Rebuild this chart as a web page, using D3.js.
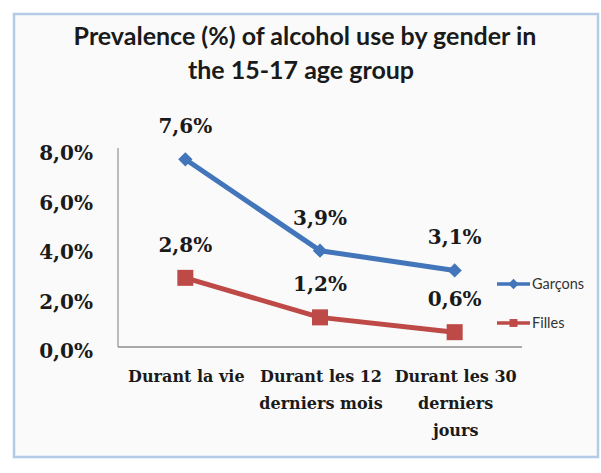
<!DOCTYPE html>
<html>
<head>
<meta charset="utf-8">
<script src="https://cdn.jsdelivr.net/npm/d3@7"></script>
<style>
  body { margin: 0; background: #fff; }
  .title { font-family: Lato, 'Open Sans', sans-serif; font-weight: bold; font-size: 25px; fill: #1a1a1a; }
  .num { font-family: 'DejaVu Serif', serif; font-weight: bold; font-size: 20px; fill: #1a1a1a; }
  .cat { font-family: 'DejaVu Serif', serif; font-weight: bold; font-size: 16px; fill: #1a1a1a; }
  .legend-label { font-family: Lato, sans-serif; font-size: 14.5px; fill: #333; }
</style>
</head>
<body>
<div id="chart"></div>
<script>
const categories = [['Durant la vie'], ['Durant les 12', 'derniers mois'], ['Durant les 30', 'derniers', 'jours']];
const seriesNames = ['Garçons', 'Filles'];
const garcons = [7.6, 3.9, 3.1];
const filles = [2.8, 1.2, 0.6];
const yTicks = [0, 2, 4, 6, 8];
const colors = ['#4275b9', '#bd4a47'];

const width = 601, height = 473;
const svg = d3.select('#chart').append('svg')
    .attr('width', width)
    .attr('height', height);

// frame
svg.append('rect')
    .attr('x', 14).attr('y', 14)
    .attr('width', 584).attr('height', 443)
    .attr('fill', '#fafafa')
    .attr('stroke', '#b3cbe6')
    .attr('stroke-width', 2.5);

// title
svg.append('text').attr('class', 'title')
    .attr('x', 305).attr('y', 45)
    .attr('text-anchor', 'middle')
    .text('Prevalence (%) of alcohol use by gender in');
svg.append('text').attr('class', 'title')
    .attr('x', 301).attr('y', 79)
    .attr('text-anchor', 'middle')
    .text('the 15-17 age group');

const xScale = d3.scaleBand()
    .domain(d3.range(categories.length))
    .range([118, 522]);

const yScale = d3.scaleLinear()
    .domain([0, 8])
    .range([347, 149.4]);

const xc = i => xScale(i) + xScale.bandwidth() / 2;

// axes lines
svg.append('line')
    .attr('x1', 118).attr('x2', 118)
    .attr('y1', 148).attr('y2', yScale(0))
    .attr('stroke', '#a6a6a6').attr('stroke-width', 1.5);
svg.append('line')
    .attr('x1', 118).attr('x2', 522)
    .attr('y1', yScale(0)).attr('y2', yScale(0))
    .attr('stroke', '#8c8c8c').attr('stroke-width', 1.5);

// y tick labels
svg.selectAll('.ytick')
  .data(yTicks)
  .join('text')
    .attr('class', 'num ytick')
    .attr('x', 93)
    .attr('y', d => yScale(d) + 4)
    .attr('dy', '0.35em')
    .attr('text-anchor', 'end')
    .text(d => d.toFixed(1).replace('.', ',') + '%');

// category labels
const catG = svg.selectAll('.cat-label')
  .data(categories)
  .join('text')
    .attr('class', 'cat cat-label')
    .attr('text-anchor', 'middle');
catG.selectAll('tspan')
  .data((d, i) => d.map(t => ({t, i})))
  .join('tspan')
    .attr('x', d => xc(d.i) + 1)
    .attr('y', (d, j) => 382 + j * 27)
    .text(d => d.t);

const line = d3.line()
    .x((d, i) => xc(i))
    .y(d => yScale(d));

const series = [garcons, filles];

series.forEach((vals, s) => {
  svg.append('path')
      .datum(vals)
      .attr('d', line)
      .attr('fill', 'none')
      .attr('stroke', colors[s])
      .attr('stroke-width', 5)
      .attr('stroke-linejoin', 'round');

  if (s === 0) {
    svg.selectAll('.marker-g')
      .data(vals)
      .join('path')
        .attr('class', 'marker-g')
        .attr('d', d3.symbol(d3.symbolDiamond2, 130)())
        .attr('transform', (d, i) => `translate(${xc(i)},${yScale(d)})`)
        .attr('fill', colors[s]);
  } else {
    svg.selectAll('.marker-f')
      .data(vals)
      .join('rect')
        .attr('class', 'marker-f')
        .attr('x', (d, i) => xc(i) - 8)
        .attr('y', d => yScale(d) - 8)
        .attr('width', 16).attr('height', 16)
        .attr('fill', colors[s]);
  }

  svg.selectAll('.val-' + s)
    .data(vals)
    .join('text')
      .attr('class', 'num val-' + s)
      .attr('x', (d, i) => xc(i))
      .attr('y', d => yScale(d) - 33)
      .attr('dy', '0.35em')
      .attr('text-anchor', 'middle')
      .text(d => d.toFixed(1).replace('.', ',') + '%');
});

// legend
const legend = svg.selectAll('.legend')
  .data(seriesNames)
  .join('g')
    .attr('class', 'legend')
    .attr('transform', (d, i) => `translate(497,${284 + i * 39})`);
legend.append('line')
    .attr('x1', 0).attr('x2', 33)
    .attr('stroke', (d, i) => colors[i])
    .attr('stroke-width', 3.5);
legend.append('path')
    .attr('d', (d, i) => d3.symbol(i === 0 ? d3.symbolDiamond2 : d3.symbolSquare2, i === 0 ? 70 : 80)())
    .attr('transform', 'translate(16.5,0)')
    .attr('fill', (d, i) => colors[i]);
legend.append('text')
    .attr('class', 'legend-label')
    .attr('x', 35)
    .attr('dy', '0.35em')
    .text(d => d);
</script>
</body>
</html>
